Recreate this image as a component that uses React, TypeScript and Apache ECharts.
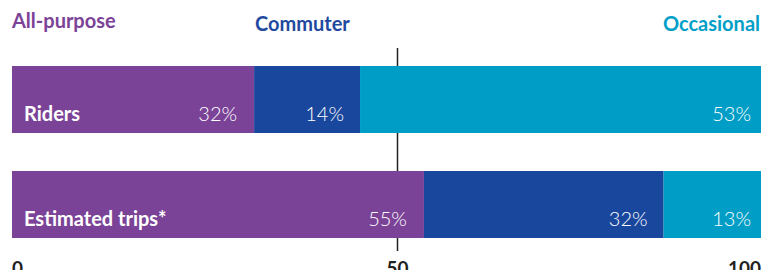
import React, { useEffect, useRef } from "react";
import * as echarts from "echarts";

const categories = ["Riders", "Estimated trips*"];
const seriesNames = ["All-purpose", "Commuter", "Occasional"];
const allPurpose = [32, 55];
const commuter = [14, 32];
const occasional = [53, 13];
const axisTicks = [0, 50, 100];
const midline = 50;

const COLORS = ["#7B4397", "#1A479E", "#009EC6"];
const LABEL_DIST = [17, 16, 10];
const FONT = "Lato, 'Open Sans', sans-serif";

export default function App() {
  const ref = useRef<HTMLDivElement>(null);
  useEffect(() => {
    if (!ref.current) return;
    const chart = echarts.init(ref.current, null, { renderer: "svg" });
    const values = [allPurpose, commuter, occasional];
    const totals = categories.map((_, j) => values.reduce((s, arr) => s + arr[j], 0));
    const barSeries = seriesNames.map((name, i) => ({
      name,
      type: "bar",
      stack: "total",
      xAxisIndex: 0,
      yAxisIndex: 0,
      barWidth: 67,
      z: 3,
      itemStyle: { color: COLORS[i] },
      label: {
        show: true,
        position: "insideRight",
        distance: LABEL_DIST[i],
        offset: [0, 13.5],
        formatter: (p: any) => `${p.data.raw}%`,
        color: "#ffffff",
        fontSize: 20,
        fontWeight: 300,
        fontFamily: FONT,
      },
      data: values[i].map((v, j) => ({ value: (v / totals[j]) * 100, raw: v })),
    }));
    chart.setOption({
      animation: false,
      title: [
        {
          text: seriesNames[0],
          left: 12,
          top: 10,
          padding: 0,
          textStyle: { color: COLORS[0], fontSize: 20, fontWeight: "bold", fontFamily: FONT },
        },
        {
          text: seriesNames[1],
          left: 255,
          top: 13,
          padding: 0,
          textStyle: { color: "#1F4AA0", fontSize: 20, fontWeight: "bold", fontFamily: FONT },
        },
        {
          text: seriesNames[2],
          right: 17,
          top: 13,
          padding: 0,
          textStyle: { color: "#00A0C8", fontSize: 20, fontWeight: "bold", fontFamily: FONT },
        },
      ],
      grid: [
        { left: 12, right: 16, top: 47, height: 210, containLabel: false },
        { left: 34, right: 16, top: 48, bottom: 27, containLabel: false },
      ],
      xAxis: [
        {
          type: "value",
          gridIndex: 0,
          min: axisTicks[0],
          max: axisTicks[2],
          interval: 50,
          splitLine: { show: false },
          axisLine: { show: false },
          axisTick: { show: false },
          axisLabel: {
            margin: 1,
            color: "#222",
            fontSize: 19,
            fontWeight: "bold",
            fontFamily: FONT,
            alignMinLabel: "left",
            alignMaxLabel: "right",
            formatter: (v: number) => (v === axisTicks[1] ? "" : String(v)),
          },
        },
        {
          type: "value",
          gridIndex: 1,
          min: axisTicks[0],
          max: axisTicks[2],
          interval: 50,
          splitLine: { show: false },
          axisLine: { show: false },
          axisTick: { show: false },
          axisLabel: {
            margin: 7,
            color: "#222",
            fontSize: 19,
            fontWeight: "bold",
            fontFamily: FONT,
            formatter: (v: number) => (v === axisTicks[1] ? String(v) : ""),
          },
        },
      ],
      yAxis: [
        {
          type: "category",
          gridIndex: 0,
          inverse: true,
          data: categories,
          z: 10,
          axisLine: { show: false },
          axisTick: { show: false },
          splitLine: { show: false },
          axisLabel: {
            inside: true,
            margin: 12,
            verticalAlign: "top",
            lineHeight: 27,
            color: "#ffffff",
            fontSize: 20,
            fontWeight: "bold",
            fontFamily: FONT,
          },
        },
        {
          type: "value",
          gridIndex: 1,
          min: 0,
          max: 1,
          show: false,
        },
      ],
      series: [
        {
          type: "line",
          xAxisIndex: 1,
          yAxisIndex: 1,
          z: 1,
          symbol: "none",
          silent: true,
          lineStyle: { color: "#222", width: 1.5 },
          data: [
            [midline, 0],
            [midline, 1],
          ],
        },
        ...barSeries,
      ],
    });
    return () => chart.dispose();
  }, []);
  return <div ref={ref} style={{ width: 777, height: 278, margin: -8 }} />;
}
